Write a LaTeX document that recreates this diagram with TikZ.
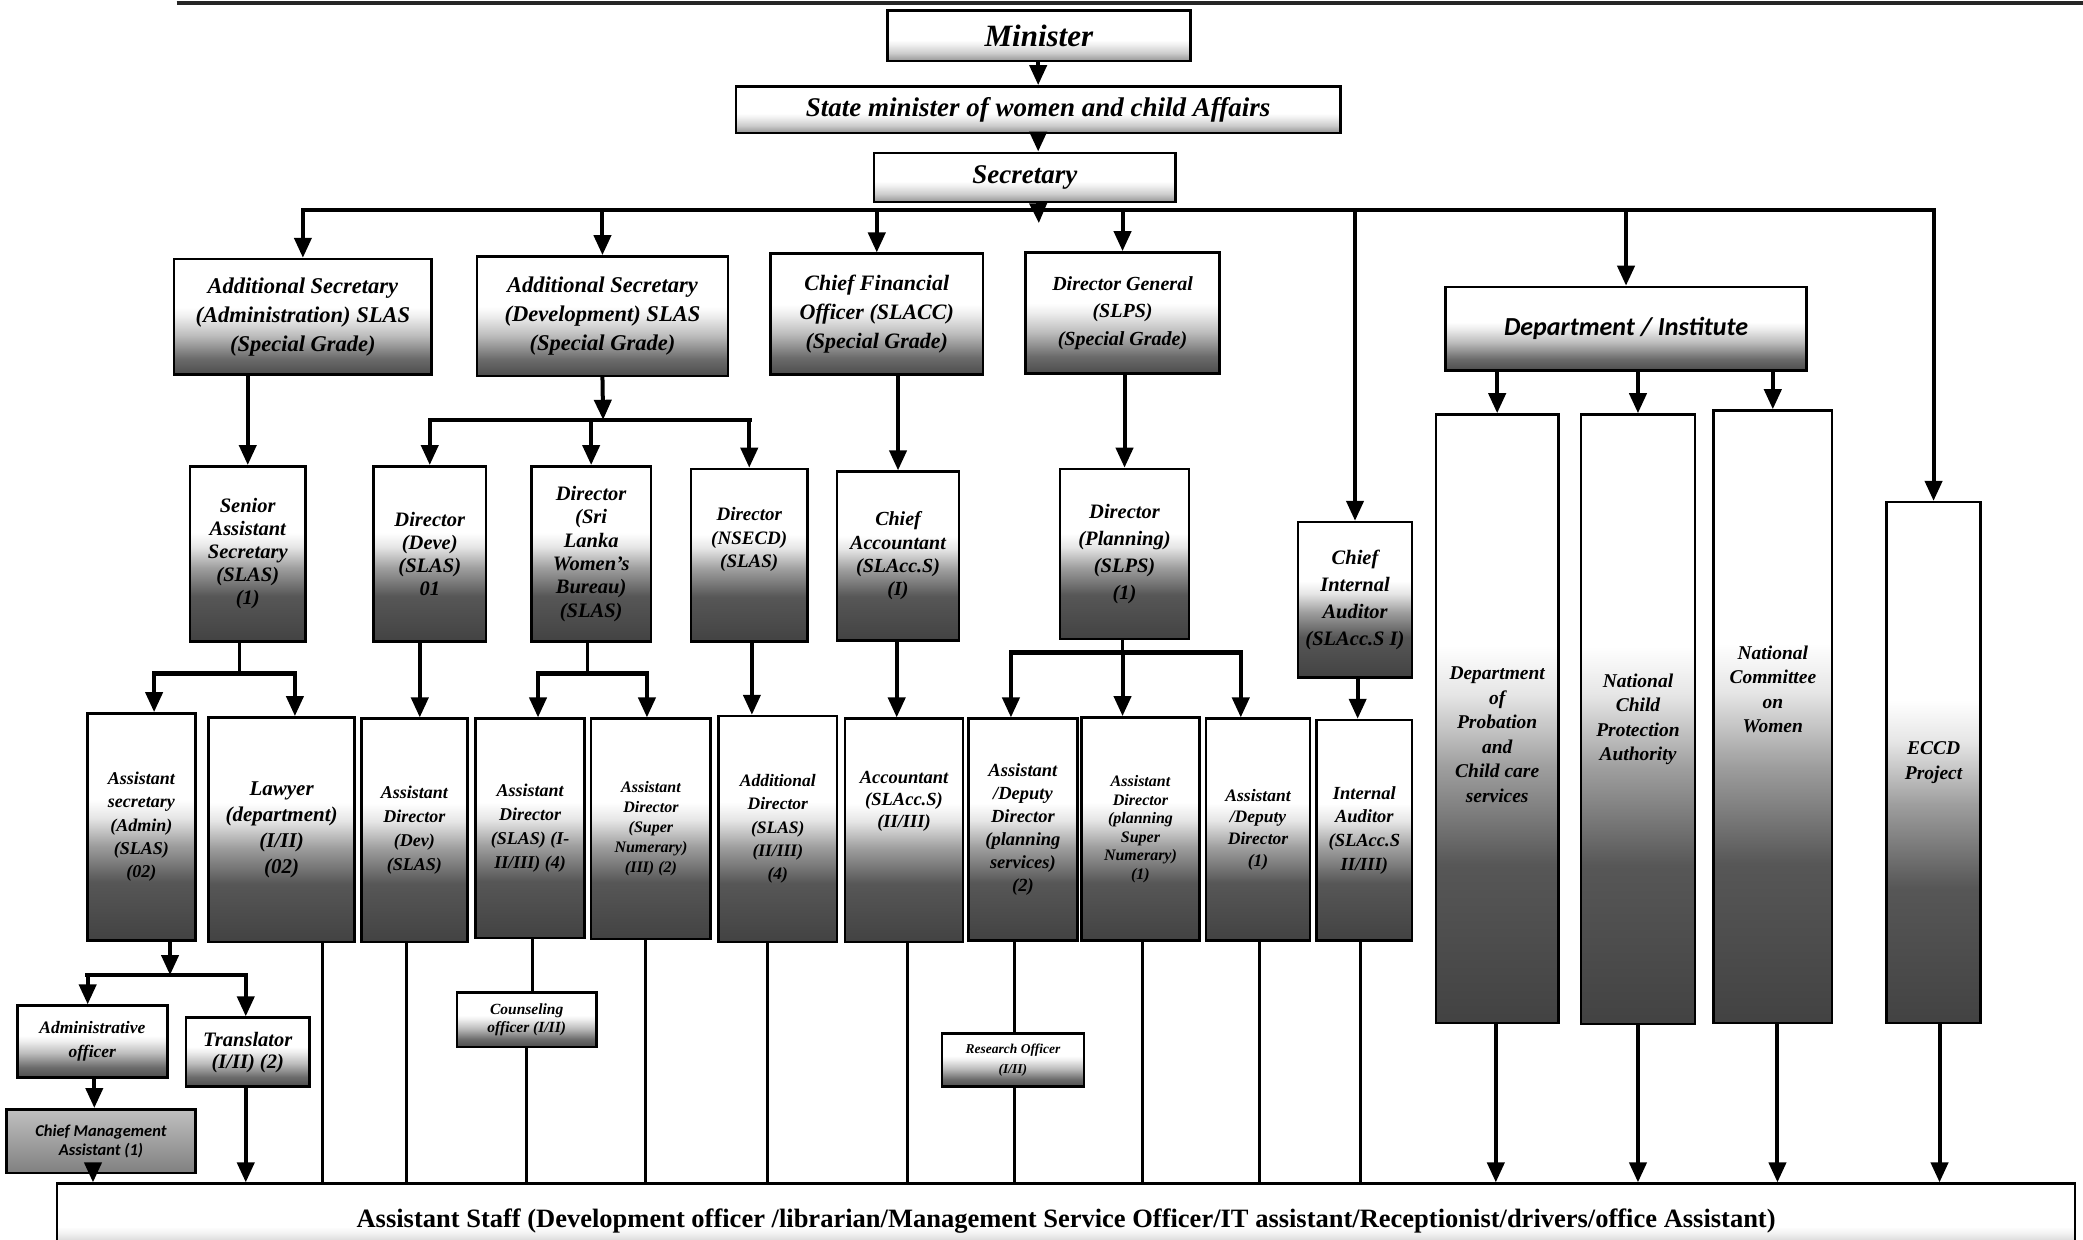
\documentclass[tikz,border=0pt]{standalone}
\usepackage{fontspec}
\setmainfont{Liberation Serif}
\newfontfamily\carlitofont{Carlito}
\usetikzlibrary{arrows.meta}
\pgfdeclareverticalshading{fadeA}{100bp}{color(0bp)=(black!74); color(25bp)=(black!74); color(38bp)=(black!66); color(46bp)=(black!38); color(52bp)=(black!10); color(56bp)=(white); color(100bp)=(white)}
\pgfdeclareverticalshading{fadeB}{100bp}{color(0bp)=(black!70); color(25bp)=(black!70); color(32bp)=(black!58); color(42bp)=(black!26); color(50bp)=(black!7); color(54bp)=(white); color(100bp)=(white)}
\pgfdeclareverticalshading{fadeC}{100bp}{color(0bp)=(black!42); color(25bp)=(black!42); color(33bp)=(black!20); color(42bp)=(black!5); color(46bp)=(white); color(100bp)=(white)}
\pgfdeclareverticalshading{fadeD}{100bp}{color(0bp)=(black!50); color(25bp)=(black!50); color(75bp)=(black!25); color(100bp)=(black!25)}
\tikzset{
  box/.style={draw=black, line width=2.5pt, inner sep=1pt, align=center, shade, shading=fadeA},
  sA/.style={shading=fadeA}, sB/.style={shading=fadeB}, sC/.style={shading=fadeC}, sD/.style={shading=fadeD},
  fs/.style 2 args={font=\fontsize{#1}{#2}\selectfont\bfseries\itshape},
  arr/.style={line width=4pt, -{Triangle[width=17pt,length=20pt]}},
  ln/.style={line width=3pt},
  busln/.style={line width=4.5pt, line cap=rect},
}
\newcommand{\orgbox}[7][]{\node[box,#1,minimum width={(#5-#3)*1.3284pt},minimum height={(#6-#4)*1.3284pt}] (#2) at ({(#3+#5)/2},{(#4+#6)/2}) {#7};}
\begin{document}
\begin{tikzpicture}[x=1.3284pt,y=-1.3284pt]
\fill[white] (0,0) rectangle (1568,933.4);
\useasboundingbox (0,0) rectangle (1568,933.4);
% top edge
\draw[line width=4pt, black!85] (133,2.5) -- (1568,2.5);
% top chain
\orgbox[sC,fs={31}{34}]{Min}{668}{8}{896}{46}{Minister}
\orgbox[sC,fs={27}{32}]{State}{554}{65}{1009}{100}{State minister of women and child Affairs}
\orgbox[sC,fs={27}{32}]{Sec}{658}{115}{885}{152}{Secretary}
% level 2
\orgbox[sB,fs={22.5}{29}]{ASAdm}{131}{195}{325}{282}{Additional Secretary\\(Administration) SLAS\\(Special Grade)}
\orgbox[sB,fs={22.5}{29}]{ASDev}{359}{193}{548}{283}{Additional Secretary\\(Development) SLAS\\(Special Grade)}
\orgbox[sB,fs={22}{29}]{CFO}{580}{191}{740}{282}{Chief Financial\\Officer (SLACC)\\(Special Grade)}
\orgbox[sB,fs={20}{27.5}]{DG}{772}{190}{918}{281}{Director General\\(SLPS)\\(Special Grade)}
\orgbox[sB,font=\carlitofont\fontsize{26}{30}\selectfont\bfseries\itshape]{DI}{1088}{216}{1360}{279}{Department / Institute}
% level 3
\orgbox[fs={20.5}{23}]{SAS}{143}{351}{230}{483}{Senior\\Assistant\\Secretary\\(SLAS)\\(1)}
\orgbox[fs={20.5}{23}]{Deve}{281}{351}{366}{483}{Director\\(Deve)\\(SLAS)\\01}
\orgbox[fs={20.5}{23.3}]{SLWB}{400}{351}{490}{483}{Director\\(Sri\\Lanka\\Women's\\Bureau)\\(SLAS)}
\orgbox[fs={19}{23.3}]{NSECD}{520}{353}{608}{483}{Director\\(NSECD)\\(SLAS)\\[12pt]}
\orgbox[fs={20}{23.3}]{ChiefAcc}{630}{355}{722}{482}{Chief\\Accountant\\(SLAcc.S)\\(I)}
\orgbox[fs={20.5}{27}]{DirPlan}{798}{353}{895}{481}{Director\\(Planning)\\(SLPS)\\(1)}
\orgbox[fs={20.5}{27}]{CIA}{977}{393}{1063}{510}{Chief\\Internal\\Auditor\\(SLAcc.S I)}
\orgbox[fs={19.5}{24.5}]{DeptProb}{1081}{312}{1173}{770}{\\[20pt]Department\\of\\Probation\\and\\Child care\\services}
\orgbox[fs={19.5}{24.5}]{NCPA}{1190}{312}{1276}{771}{National\\Child\\Protection\\Authority}
\orgbox[fs={19.5}{24.5}]{NCW}{1290}{309}{1379}{770}{National\\Committee\\on\\Women\\[30pt]}
\orgbox[fs={19.5}{24.5}]{ECCD}{1420}{378}{1491}{770}{ECCD\\Project}
% level 4
\orgbox[fs={18}{23.3}]{ASecAdm}{66}{537}{147}{708}{Assistant\\secretary\\(Admin)\\(SLAS)\\(02)}
\orgbox[fs={21}{26}]{Lawyer}{157}{540}{267}{709}{Lawyer\\(department)\\(I/II)\\(02)}
\orgbox[fs={18}{24}]{ADirDev}{272}{541}{352}{709}{Assistant\\Director\\(Dev)\\(SLAS)}
\orgbox[fs={18}{24}]{ADirSLAS}{358}{541}{440}{706}{Assistant\\Director\\(SLAS) (I-\\II/III) (4)}
\orgbox[fs={16}{20}]{ADirSN}{445}{541}{535}{707}{Assistant\\Director\\(Super\\Numerary)\\(III) (2)}
\orgbox[fs={17.5}{23.3}]{AddDir}{541}{539}{630}{709}{Additional\\Director\\(SLAS)\\(II/III)\\(4)}
\orgbox[fs={18.5}{22}]{Accnt}{636}{541}{725}{709}{Accountant\\(SLAcc.S)\\(II/III)\\[40pt]}
\orgbox[fs={18.5}{23}]{ADDplan}{729}{541}{811}{708}{Assistant\\/Deputy\\Director\\(planning\\services)\\(2)}
\orgbox[fs={16}{18.5}]{ADplanSN}{814}{540}{903}{708}{Assistant\\Director\\(planning\\Super\\Numerary)\\(1)}
\orgbox[fs={17.5}{21.7}]{ADD1}{908}{541}{986}{708}{Assistant\\/Deputy\\Director\\(1)}
\orgbox[fs={18.5}{23.7}]{IntAud}{991}{542}{1063}{708}{Internal\\Auditor\\(SLAcc.S\\II/III)}
% level 5
\orgbox[sB,fs={17.5}{24}]{AdmOff}{13}{757}{126}{811}{Administrative\\officer}
\orgbox[sB,fs={20.5}{22}]{Transl}{140}{766}{233}{818}{Translator\\(I/II) (2)}
\orgbox[sD,font=\carlitofont\fontsize{16.5}{19}\selectfont\bfseries\itshape]{CMA}{5}{835}{147}{883}{Chief Management\\Assistant (1)}
\orgbox[sB,fs={15.5}{18}]{Counsel}{344}{747}{449}{788}{Counseling\\officer (I/II)}
\orgbox[sB,fs={13.5}{20}]{Research}{709}{778}{816}{818}{Research Officer\\(I/II)}
\orgbox[sC,font=\fontsize{26.5}{30}\selectfont\bfseries]{Staff}{43}{891}{1562}{947}{Assistant Staff (Development officer /librarian/Management Service Officer/IT assistant/Receptionist/drivers/office Assistant)}
% ---- connectors ----
\coordinate (bus) at (782,158);
\coordinate (secbus) at (782,168);
\draw[arr] (Min.south -| State.south) -- (State.north);
\draw[arr] (State.south) -- (State.south |- Sec.north);
\draw[arr] (Sec.south -| State.south) -- (secbus);
\draw[busln] (ASAdm.north |- bus) -- (ECCD.north |- bus);
\foreach \n in {ASAdm,ASDev,CFO,DG,DI,CIA,ECCD} \draw[arr] (\n.north |- bus) -- (\n.north);
% add sec admin
\draw[arr] (SAS.north |- ASAdm.south) -- (SAS.north);
% add sec dev
\coordinate (b2) at (454,316);
\draw[arr] (ASDev.south) -- (b2);
\draw[busln] (Deve.north |- b2) -- (NSECD.north |- b2);
\foreach \n in {Deve,SLWB,NSECD} \draw[arr] (\n.north |- b2) -- (\n.north);
\draw[arr] (ChiefAcc.north |- CFO.south) -- (ChiefAcc.north);
\draw[arr] (DirPlan.north |- DG.south) -- (DirPlan.north);
\foreach \n in {DeptProb,NCPA,NCW} \draw[arr] (\n.north |- DI.south) -- (\n.north);
% level 3 -> 4
\coordinate (b3) at (180,507); \coordinate (b3L) at (116,507); \coordinate (b3R) at (222,507);
\draw[ln] (SAS.south -| b3) -- (b3);
\draw[busln] (b3L) -- (b3R);
\draw[arr] (b3L) -- (b3L |- ASecAdm.north);
\draw[arr] (b3R) -- (b3R |- Lawyer.north);
\coordinate (k1) at (316,0);
\draw[arr] (Deve.south -| k1) -- (ADirDev.north -| k1);
\coordinate (b4) at (442,507); \coordinate (b4L) at (405,507); \coordinate (b4R) at (487,507);
\draw[ln] (SLWB.south -| b4) -- (b4);
\draw[busln] (b4L) -- (b4R);
\draw[arr] (b4L) -- (b4L |- ADirSLAS.north);
\draw[arr] (b4R) -- (b4R |- ADirSN.north);
\coordinate (k2) at (566,0);
\draw[arr] (NSECD.south -| k2) -- (AddDir.north -| k2);
\coordinate (k3) at (675,0);
\draw[arr] (ChiefAcc.south -| k3) -- (Accnt.north -| k3);
\coordinate (b5) at (845,491); \coordinate (b5L) at (761,491); \coordinate (b5R) at (934,491);
\draw[ln] (DirPlan.south -| b5) -- (b5);
\draw[busln] (b5L) -- (b5R);
\draw[arr] (b5L) -- (b5L |- ADDplan.north);
\draw[arr] (b5) -- (b5 |- ADplanSN.north);
\draw[arr] (b5R) -- (b5R |- ADD1.north);
\coordinate (k4) at (1022,0);
\draw[arr] (CIA.south -| k4) -- (IntAud.north -| k4);
% level 4 -> 5
\coordinate (b6) at (128,734); \coordinate (b6L) at (66,734); \coordinate (b6R) at (185,734);
\draw[arr] (ASecAdm.south -| b6) -- (b6);
\draw[busln] (b6L) -- (b6R);
\draw[arr] (b6L) -- (b6L |- AdmOff.north);
\draw[arr] (b6R) -- (b6R |- Transl.north);
\coordinate (k6) at (71,0);
\draw[arr] (AdmOff.south -| k6) -- (CMA.north -| k6);
\coordinate (k7) at (70,0);
\draw[arr] (CMA.south -| k7) -- (Staff.north -| k7);
\draw[arr] (Transl.south -| b6R) -- (Staff.north -| b6R);
\coordinate (k9) at (243,0);
\draw[ln] (Lawyer.south -| k9) -- (Staff.north -| k9);
\coordinate (k10) at (306,0);
\draw[ln] (ADirDev.south -| k10) -- (Staff.north -| k10);
\coordinate (k11) at (401,0); \coordinate (k12) at (396,0);
\draw[ln] (ADirSLAS.south -| k11) -- (Counsel.north -| k11);
\draw[ln] (Counsel.south -| k12) -- (Staff.north -| k12);
\coordinate (k13) at (486,0);
\draw[ln] (ADirSN.south -| k13) -- (Staff.north -| k13);
\coordinate (k14) at (578,0);
\draw[ln] (AddDir.south -| k14) -- (Staff.north -| k14);
\coordinate (k15) at (683,0);
\draw[ln] (Accnt.south -| k15) -- (Staff.north -| k15);
\coordinate (k16) at (764,0);
\draw[ln] (ADDplan.south -| k16) -- (Research.north -| k16);
\draw[ln] (Research.south -| k16) -- (Staff.north -| k16);
\coordinate (k17) at (860,0);
\draw[ln] (ADplanSN.south -| k17) -- (Staff.north -| k17);
\coordinate (k18) at (948,0);
\draw[ln] (ADD1.south -| k18) -- (Staff.north -| k18);
\coordinate (k19) at (1024,0);
\draw[ln] (IntAud.south -| k19) -- (Staff.north -| k19);
\coordinate (k20) at (1126,0); \coordinate (k21) at (1233,0); \coordinate (k22) at (1338,0); \coordinate (k23) at (1460,0);
\draw[arr] (DeptProb.south -| k20) -- (Staff.north -| k20);
\draw[arr] (NCPA.south -| k21) -- (Staff.north -| k21);
\draw[arr] (NCW.south -| k22) -- (Staff.north -| k22);
\draw[arr] (ECCD.south -| k23) -- (Staff.north -| k23);
\end{tikzpicture}
\end{document}
